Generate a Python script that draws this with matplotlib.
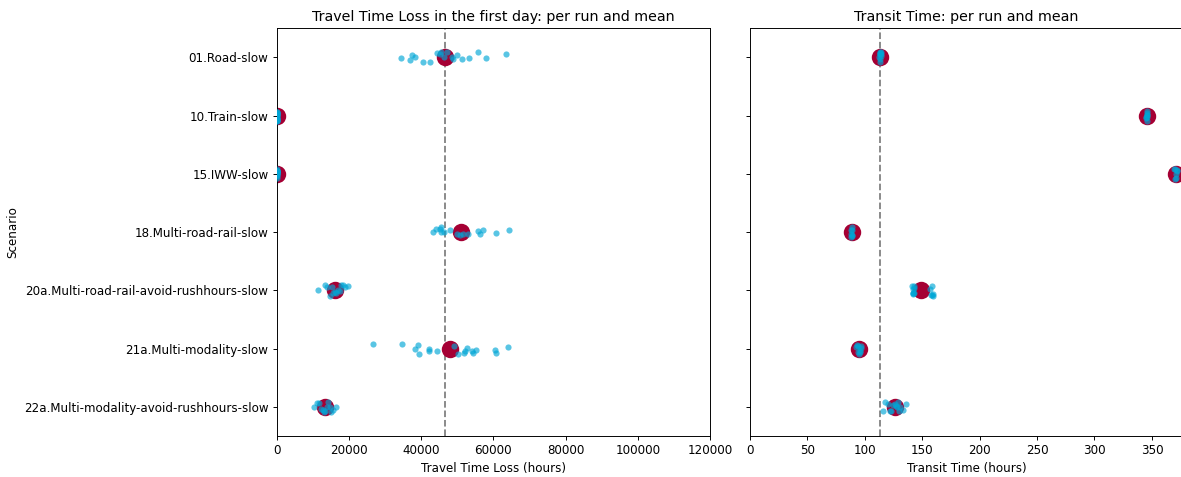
import numpy as np
import pandas as pd
import matplotlib
matplotlib.use("Agg")
import matplotlib.pyplot as plt
import seaborn as sns

scenarios = [
    "01.Road-slow",
    "10.Train-slow",
    "15.IWW-slow",
    "18.Multi-road-rail-slow",
    "20a.Multi-road-rail-avoid-rushhours-slow",
    "21a.Multi-modality-slow",
    "22a.Multi-modality-avoid-rushhours-slow",
]

# travel time loss per run (hours)
ttl_road = [34400, 36900, 37400, 38200, 40500, 42400, 44300, 45200, 45600,
            46200, 47000, 48400, 48800, 49900, 51400, 53300, 55600, 57900, 63400]
ttl_train = [0, 0, 0, 0, 0, 0, 0, 0, 0, 0, 0, 0, 0, 0, 0]
ttl_iww = [0, 0, 0, 0, 0, 0, 0, 0, 0, 0, 0, 0, 0, 0, 0]
ttl_rr = [43300, 44200, 45200, 45400, 45600, 46300, 47900, 49800, 50700,
          51600, 53000, 55800, 56300, 57000, 60600, 64300]
ttl_rr_avoid = [11500, 13300, 13800, 14700, 15200, 15600, 16000, 16400,
                16900, 17400, 17800, 18300, 18900, 19700]
ttl_mm = [26700, 34600, 38400, 39000, 39400, 42200, 42200, 44500, 49100,
          50200, 51900, 52000, 52600, 54400, 54000, 55300, 60600, 60500, 64100]
ttl_mm_avoid = [10200, 11000, 11600, 12200, 12700, 13000, 13400, 13800,
                14200, 14600, 15100, 15600, 16300]

# transit time per run (hours)
tt_road = [112.8, 113.0, 113.2, 113.3, 113.4, 113.5, 113.6, 113.7, 113.9, 114.1]
tt_train = [345.1, 345.3, 345.4, 345.6, 345.7, 345.8, 345.9, 346.0]
tt_iww = [369.5, 370.0, 370.4, 370.8, 371.2, 371.5, 371.9]
tt_rr = [88.0, 88.2, 88.4, 88.6, 88.7, 88.9, 89.1]
tt_rr_avoid = [141.2, 141.6, 142.0, 142.1, 142.4, 142.6, 142.9, 143.0,
               157.2, 157.8, 158.2, 158.6, 159.2, 159.8]
tt_mm = [92.5, 93.2, 93.9, 94.5, 95.0, 95.6, 96.3, 97.0, 96.0]
tt_mm_avoid = [116.0, 118.0, 120.0, 122.0, 123.0, 125.0, 126.0, 127.0,
               128.0, 129.0, 130.0, 131.0, 133.0, 136.0]

ttl_runs = [ttl_road, ttl_train, ttl_iww, ttl_rr, ttl_rr_avoid, ttl_mm, ttl_mm_avoid]
tt_runs = [tt_road, tt_train, tt_iww, tt_rr, tt_rr_avoid, tt_mm, tt_mm_avoid]

run_color = "#00A6D6"
mean_color = "#A50034"


def long_form(runs):
    rows = []
    for name, vals in zip(scenarios, runs):
        for v in vals:
            rows.append((name, v))
    return pd.DataFrame(rows, columns=["Scenario", "value"])


np.random.seed(3)
dpi = 85.6
fig, axes = plt.subplots(1, 2, figsize=(1181 / dpi, 477 / dpi), dpi=dpi, sharey=True)
axes[0].set_position([0.2345, 0.086, 0.3666, 0.855])
axes[1].set_position([0.635, 0.086, 0.3666, 0.855])

panels = [
    (ttl_runs, "Travel Time Loss in the first day: per run and mean",
     "Travel Time Loss (hours)", (0, 120000)),
    (tt_runs, "Transit Time: per run and mean",
     "Transit Time (hours)", (0, 377)),
]

for ax, (runs, title, xlabel, xlim) in zip(axes, panels):
    df = long_form(runs)
    sns.stripplot(data=df, x="value", y="Scenario", order=scenarios, ax=ax,
                  color=run_color, alpha=0.65, size=5.2, linewidth=0,
                  jitter=True, zorder=3)
    means = [np.mean(v) for v in runs]
    ax.scatter(means, np.arange(len(scenarios)), s=215, color=mean_color,
               zorder=2, linewidths=0)
    # baseline: mean of the road scenario
    ax.axvline(means[0], color="grey", linestyle="--", linewidth=1.5, zorder=1)
    ax.set_xlim(*xlim)
    ax.set_ylim(len(scenarios) - 0.5, -0.5)
    ax.set_title(title, fontsize=12)
    ax.set_xlabel(xlabel)

axes[0].set_ylabel("Scenario")
axes[1].set_ylabel("")
axes[1].tick_params(axis="y", labelleft=False)

fig.savefig("out.png", dpi=dpi)
